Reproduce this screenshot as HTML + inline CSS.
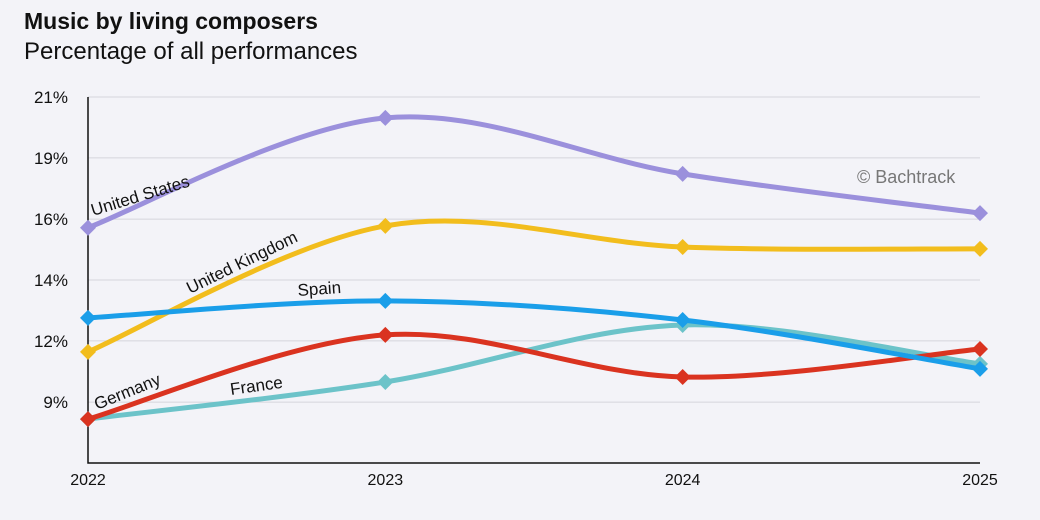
<!DOCTYPE html>
<html><head><meta charset="utf-8"><style>
html,body{margin:0;padding:0;background:#f3f3f8;}
body{width:1040px;height:520px;overflow:hidden;font-family:"Liberation Sans",sans-serif;}
#t{position:absolute;left:24px;top:8px;font-size:23px;font-weight:bold;color:#111;}
#s{position:absolute;left:24px;top:38px;font-size:24px;color:#111;}
svg{position:absolute;left:0;top:0;}
</style></head><body>
<div id="t">Music by living composers</div>
<div id="s">Percentage of all performances</div>
<svg id="c" width="1040" height="520"></svg>
<script>
const years=["2022","2023","2024","2025"];
const yTicks=[21,18.67,16.33,14,11.67,9.33];
const yTickLabels=["21%","19%","16%","14%","12%","9%"];
const seriesNames=["United States","United Kingdom","Spain","Germany","France"];
const us=[16.0,20.2,18.06,16.56];
const uk=[11.25,16.07,15.26,15.19];
const spain=[12.55,13.2,12.47,10.6];
const germany=[8.68,11.9,10.29,11.36];
const france=[8.68,10.1,12.28,10.79];
const colors=["#9b90dc","#f2bd1d","#1a9ee9","#da3320","#6cc3c9"];
const allSeries=[us,uk,spain,germany,france];
const NS="http://www.w3.org/2000/svg";
const svg=document.getElementById('c');
const X0=88,X1=980,Y0=463,Y1=97,VMIN=7,VMAX=21;
const x=i=>X0+(X1-X0)*i/(years.length-1);
const y=v=>Y0-(v-VMIN)/(VMAX-VMIN)*(Y0-Y1);
function mk(tag,a){const e=document.createElementNS(NS,tag);for(const k in a)e.setAttribute(k,a[k]);svg.appendChild(e);return e;}
yTicks.forEach((v,i)=>{
  const g=mk('line',{x1:X0,x2:X1,y1:y(v),y2:y(v),stroke:'#d4d4dc','stroke-width':1});
  
  
  const t=mk('text',{x:X0-20,y:y(v)+6,'text-anchor':'end','font-size':17,fill:'#111'});
  t.textContent=yTickLabels[i];
  
  
});
const ax=mk('path',{d:`M${X0} ${Y1}V${Y0}H${X1}`,stroke:'#111','stroke-width':1.5,fill:'none'});


years.forEach((yr,i)=>{
  const t=mk('text',{x:x(i),y:485,'text-anchor':'middle','font-size':16,fill:'#111'});
  t.textContent=yr;
  
  
});
const wm=mk('text',{x:857,y:183,'font-size':18,fill:'#777'});
wm.textContent='© Bachtrack';


function curve(pts){
  let d=`M${pts[0][0]} ${pts[0][1]}`;
  for(let i=0;i<pts.length-1;i++){
    const p0=pts[i-1]||pts[i],p1=pts[i],p2=pts[i+1],p3=pts[i+2]||p2;
    const c1=[p1[0]+(p2[0]-p0[0])/6,p1[1]+(p2[1]-p0[1])/6];
    const c2=[p2[0]-(p3[0]-p1[0])/6,p2[1]-(p3[1]-p1[1])/6];
    d+=`C${c1[0]} ${c1[1]} ${c2[0]} ${c2[1]} ${p2[0]} ${p2[1]}`;
  }
  return d;
}
const order=[4,3,1,2,0];
order.forEach(si=>{
  const data=allSeries[si];
  const pts=data.map((v,i)=>[x(i),y(v)]);
  const p=mk('path',{d:curve(pts),stroke:colors[si],'stroke-width':5,fill:'none','stroke-linecap':'round'});
  
  
  pts.forEach(q=>{
    const m=mk('path',{d:`M${q[0]} ${q[1]-8}L${q[0]+8} ${q[1]}L${q[0]} ${q[1]+8}L${q[0]-8} ${q[1]}Z`,fill:colors[si]});
    
    
  });
});
const labels=[["United States",93,216,-17],["United Kingdom",190,294,-26],["Spain",298,296,-4],["Germany",97,410,-22],["France",231,395,-8]];
labels.forEach(l=>{
  const t=mk('text',{x:l[1],y:l[2],'font-size':17,fill:'#111',transform:`rotate(${l[3]} ${l[1]} ${l[2]})`});
  t.textContent=l[0];
  
  
});
</script>
</body></html>
